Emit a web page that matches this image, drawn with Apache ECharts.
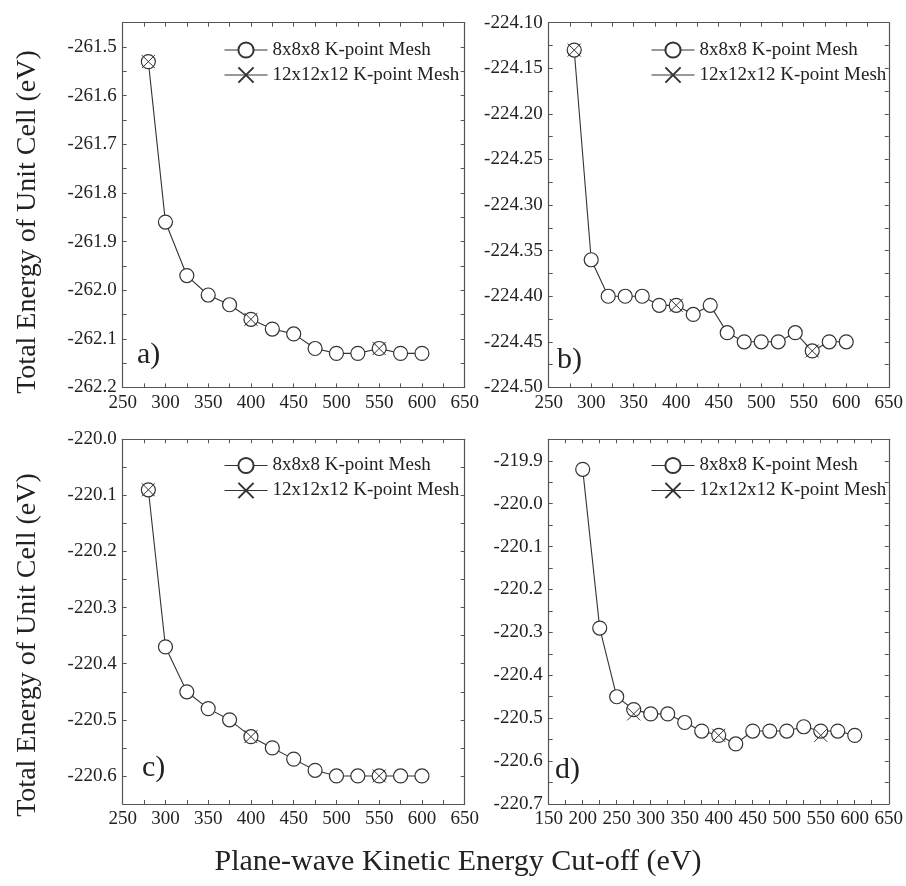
<!DOCTYPE html>
<html>
<head>
<meta charset="utf-8">
<script src="https://cdn.jsdelivr.net/npm/echarts@6/dist/echarts.min.js"></script>
<style>
html,body{margin:0;padding:0;background:#fff;}
#c{width:906px;height:886px;}
</style>
</head>
<body>
<div id="c"></div>
<script>
// ---- Data ----
const seriesNames = ['8x8x8 K-point Mesh', '12x12x12 K-point Mesh'];

// Panel a)
const cutA = [280, 300, 325, 350, 375, 400, 425, 450, 475, 500, 525, 550, 575, 600];
const energyA = [-261.53, -261.86, -261.97, -262.01, -262.03, -262.06, -262.08, -262.09, -262.12, -262.13, -262.13, -262.12, -262.13, -262.13];
const cutA12 = [280, 400, 550];
const energyA12 = [-261.53, -262.06, -262.12];

// Panel b)
const cutB = [280, 300, 320, 340, 360, 380, 400, 420, 440, 460, 480, 500, 520, 540, 560, 580, 600];
const energyB = [-224.13, -224.36, -224.40, -224.40, -224.40, -224.41, -224.41, -224.42, -224.41, -224.44, -224.45, -224.45, -224.45, -224.44, -224.46, -224.45, -224.45];
const cutB12 = [280, 400, 560];
const energyB12 = [-224.13, -224.41, -224.46];

// Panel c)
const cutC = [280, 300, 325, 350, 375, 400, 425, 450, 475, 500, 525, 550, 575, 600];
const energyC = [-220.09, -220.37, -220.45, -220.48, -220.50, -220.53, -220.55, -220.57, -220.59, -220.60, -220.60, -220.60, -220.60, -220.60];
const cutC12 = [280, 400, 550];
const energyC12 = [-220.09, -220.53, -220.60];

// Panel d)
const cutD = [200, 225, 250, 275, 300, 325, 350, 375, 400, 425, 450, 475, 500, 525, 550, 575, 600];
const energyD = [-219.92, -220.29, -220.45, -220.48, -220.49, -220.49, -220.51, -220.53, -220.54, -220.56, -220.53, -220.53, -220.53, -220.52, -220.53, -220.53, -220.54];
const cutD12 = [275, 400, 550];
const energyD12 = [-220.49, -220.54, -220.54];

// Axis ranges
const xRangeA = [250, 650], yRangeA = [-262.2, -261.45];
const xRangeB = [250, 650], yRangeB = [-224.5, -224.1];
const xRangeC = [250, 650], yRangeC = [-220.65, -220.0];
const xRangeD = [150, 650], yRangeD = [-220.7, -219.85];

const panelLabels = ['a)', 'b)', 'c)', 'd)'];
const yTitle = 'Total Energy of Unit Cell (eV)';
const xTitle = 'Plane-wave Kinetic Energy Cut-off (eV)';

// ---- Layout / styling ----
const FONT = '"Liberation Serif", "Times New Roman", serif';
const AXIS_COLOR = '#555';
const TEXT_COLOR = '#222';
const LINE_COLOR = '#333';

const panels = [
  {x: cutA, y: energyA, x12: cutA12, y12: energyA12, xr: xRangeA, yr: yRangeA, yInt: 0.1, yMinor: true, dec: 1, showMax: false, left: 122.7, top: 22.7, lab: [137, 355], leg: [219, 35.5]},
  {x: cutB, y: energyB, x12: cutB12, y12: energyB12, xr: xRangeB, yr: yRangeB, yInt: 0.05, yMinor: true, dec: 2, showMax: true, left: 548.7, top: 22.7, lab: [557, 360], leg: [646, 35.5]},
  {x: cutC, y: energyC, x12: cutC12, y12: energyC12, xr: xRangeC, yr: yRangeC, yInt: 0.05, yMinor: false, dec: 1, showMax: true, only01: true, left: 122.7, top: 439.3, lab: [142, 768], leg: [219, 451]},
  {x: cutD, y: energyD, x12: cutD12, y12: energyD12, xr: xRangeD, yr: yRangeD, yInt: 0.1, yMinor: true, dec: 1, showMax: false, left: 548.7, top: 439.3, lab: [555, 770], leg: [646, 451]}
];

const GW = 342, GH = 364.7;
const grid = [], xAxis = [], yAxis = [], series = [], legend = [], graphic = [];

const tickStyle = {show: true, inside: true, length: 4, lineStyle: {color: AXIS_COLOR, width: 1}};
const minorStyle = {show: true, splitNumber: 2, length: 4, lineStyle: {color: AXIS_COLOR, width: 1}};
const lineStyleAxis = {show: true, onZero: false, lineStyle: {color: AXIS_COLOR, width: 1.2}};
const labelStyle = {color: TEXT_COLOR, fontFamily: FONT, fontSize: 19};

const xSym = 'path://M0,0L10,10M10,0L0,10';

panels.forEach((p, i) => {
  grid.push({left: p.left, top: p.top, width: GW, height: GH, containLabel: false});
  const xBase = {gridIndex: i, type: 'value', min: p.xr[0], max: p.xr[1], interval: 50,
    axisLine: lineStyleAxis, axisTick: tickStyle, minorTick: minorStyle, splitLine: {show: false}};
  xAxis.push(Object.assign({}, xBase, {position: 'bottom',
    axisLabel: Object.assign({}, labelStyle, {margin: 6, showMaxLabel: true})}));
  xAxis.push(Object.assign({}, xBase, {position: 'top', axisLabel: {show: false}}));
  const yBase = {gridIndex: i, type: 'value', min: p.yr[0], max: p.yr[1], interval: p.yInt,
    axisLine: lineStyleAxis, axisTick: tickStyle,
    minorTick: p.yMinor ? minorStyle : {show: false}, splitLine: {show: false}};
  yAxis.push(Object.assign({}, yBase, {position: 'left',
    axisLabel: Object.assign({}, labelStyle, {margin: 6, showMaxLabel: p.showMax,
      showMinLabel: true,
      formatter: function (v) {
        if (p.only01) {
          const r = Math.round(v * 10);
          if (Math.abs(v * 10 - r) > 1e-6) return '';
        }
        return v.toFixed(p.dec);
      }})}));
  yAxis.push(Object.assign({}, yBase, {position: 'right', axisLabel: {show: false}}));

  series.push({
    name: seriesNames[0], type: 'line', xAxisIndex: 2 * i, yAxisIndex: 2 * i,
    data: p.x.map((v, k) => [v, p.y[k]]),
    symbol: 'circle', symbolSize: 14,
    itemStyle: {color: '#fff', borderColor: LINE_COLOR, borderWidth: 1.2},
    lineStyle: {color: LINE_COLOR, width: 1.1},
    emphasis: {disabled: true}, animation: false, z: 2
  });
  series.push({
    name: seriesNames[1], type: 'line', xAxisIndex: 2 * i, yAxisIndex: 2 * i,
    data: p.x12.map((v, k) => [v, p.y12[k]]),
    symbol: xSym, symbolSize: 13,
    itemStyle: {color: LINE_COLOR, borderColor: LINE_COLOR, borderWidth: 1},
    lineStyle: {color: LINE_COLOR, width: 1, opacity: 0},
    emphasis: {disabled: true}, animation: false, z: 3
  });

  legend.push({
    left: p.leg[0], top: p.leg[1], orient: 'vertical', itemWidth: 43, itemHeight: 19, itemGap: 6,
    data: seriesNames, selectedMode: false,
    textStyle: {color: TEXT_COLOR, fontFamily: FONT, fontSize: 19},
    lineStyle: {color: LINE_COLOR, width: 1, opacity: 1}
  });

  graphic.push({type: 'text', x: p.lab[0], y: p.lab[1],
    style: {text: panelLabels[i], font: '30px ' + FONT, fill: TEXT_COLOR, textAlign: 'left', textVerticalAlign: 'middle'}});
});

graphic.push({type: 'text', x: 28, y: 222, rotation: Math.PI / 2,
  style: {text: yTitle, font: '28px ' + FONT, fill: TEXT_COLOR, textAlign: 'center', textVerticalAlign: 'middle'}});
graphic.push({type: 'text', x: 28, y: 645, rotation: Math.PI / 2,
  style: {text: yTitle, font: '28px ' + FONT, fill: TEXT_COLOR, textAlign: 'center', textVerticalAlign: 'middle'}});
graphic.push({type: 'text', x: 458, y: 862,
  style: {text: xTitle, font: '30px ' + FONT, fill: TEXT_COLOR, textAlign: 'center', textVerticalAlign: 'middle'}});

const chart = echarts.init(document.getElementById('c'), null, {renderer: 'canvas'});
chart.setOption({
  backgroundColor: '#fff',
  animation: false,
  grid, xAxis, yAxis, series, legend, graphic
});
</script>
</body>
</html>
